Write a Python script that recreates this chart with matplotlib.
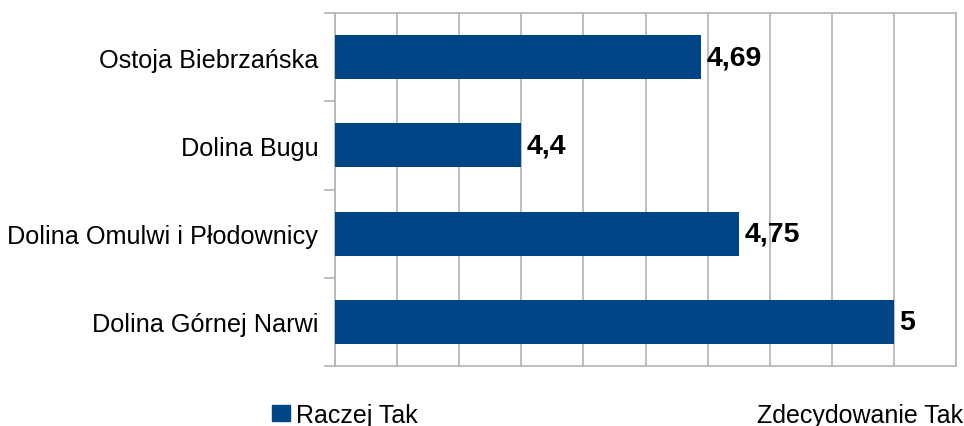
import matplotlib
matplotlib.use('Agg')
import matplotlib.pyplot as plt
from matplotlib.patches import Patch
from matplotlib.ticker import MultipleLocator, FixedLocator

plt.rcParams['font.family'] = ['Liberation Sans', 'DejaVu Sans']

# data, top to bottom
categories = ['Ostoja Biebrzańska', 'Dolina Bugu', 'Dolina Omulwi i Płodownicy', 'Dolina Górnej Narwi']
values = [4.69, 4.4, 4.75, 5]
value_labels = ['4,69', '4,4', '4,75', '5']
legend_labels = ['Raczej Tak', 'Zdecydowanie Tak']

bar_color = '#004586'
grid_color = '#b3b3b3'

fig = plt.figure(figsize=(9.64, 4.27), dpi=100)
ax = fig.add_axes([335 / 964, 1 - 367 / 427, (956 - 335) / 964, (367 - 14) / 427])

pos = list(range(len(categories)))
ax.barh(pos, values, height=0.5, color=bar_color, zorder=3)

for p, v, lab in zip(pos, values, value_labels):
    ax.annotate(lab, (v, p), xytext=(4, 0), textcoords='offset points',
                va='center', ha='left', fontsize=20.5, fontweight='bold', zorder=4)

ax.set_xlim(4.1, 5.1)
ax.set_ylim(len(categories) - 0.5, -0.5)

ax.xaxis.set_major_locator(MultipleLocator(0.1))
ax.grid(axis='x', color=grid_color, linewidth=1.2, zorder=0)
ax.tick_params(axis='x', length=0, labelbottom=False)

ax.set_yticks(pos)
ax.set_yticklabels(categories, fontsize=18.2)
ax.yaxis.set_minor_locator(FixedLocator([i - 0.5 for i in range(len(categories) + 1)]))
ax.tick_params(axis='y', which='major', length=0, pad=12)
ax.tick_params(axis='y', which='minor', length=8, width=1.2, color=grid_color)

for s in ax.spines.values():
    s.set_color(grid_color)
    s.set_linewidth(1.2)

handles = [Patch(facecolor=bar_color, edgecolor=bar_color),
           Patch(facecolor='white', edgecolor='white')]
fig.legend(handles, legend_labels, loc='upper left', ncol=2,
           bbox_to_anchor=(272 / 964, 1 - 404 / 427), frameon=False,
           fontsize=18, handlelength=0.72, handleheight=0.64,
           handletextpad=0.22, columnspacing=12.65, borderpad=0, borderaxespad=0)

fig.savefig('out.png', dpi=100)
